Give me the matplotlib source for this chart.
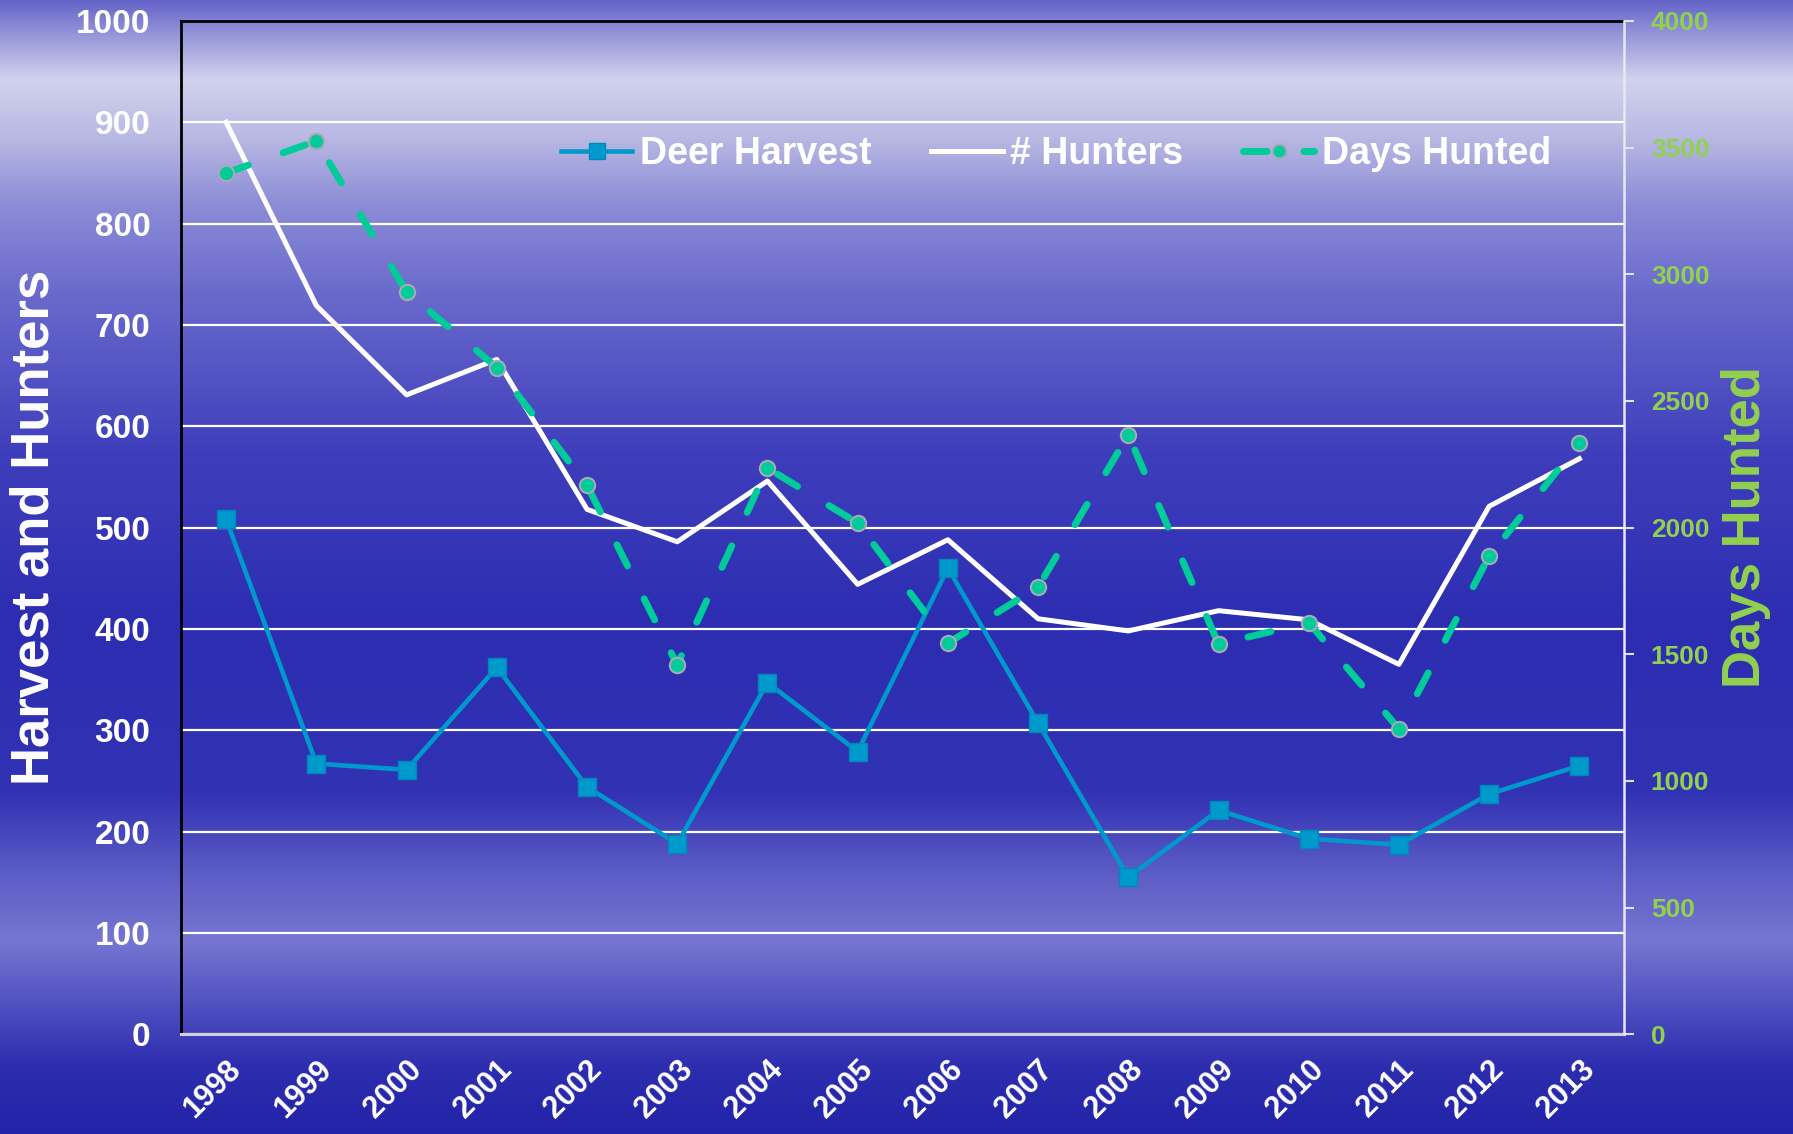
import matplotlib
matplotlib.use("Agg")
import matplotlib.pyplot as plt
import numpy as np

plt.rcParams["font.family"] = ["Liberation Sans", "DejaVu Sans"]
plt.rcParams["font.weight"] = "bold"

# values
years = [str(y) for y in range(1998, 2014)]
deer_harvest = [508, 267, 261, 362, 244, 188, 347, 279, 460, 307, 155, 221, 193, 187, 237, 265]
hunters = [900, 719, 631, 666, 518, 486, 546, 444, 488, 410, 398, 418, 409, 365, 521, 568]
days_hunted = [3400, 3526, 2930, 2632, 2167, 1458, 2235, 2018, 1544, 1765, 2366, 1540, 1625, 1205, 1887, 2334]

left_ticks = list(range(0, 1001, 100))
right_ticks = list(range(0, 4001, 500))

HARVEST_C = "#0099CC"
DAYS_C = "#00CC99"
RIGHT_LABEL_C = "#92D050"

# background gradient stops (fraction from top, rgb)
bg_stops = [
    (0.00, (100, 100, 200)),
    (0.03, (150, 150, 218)),
    (0.07, (210, 210, 238)),
    (0.12, (185, 185, 228)),
    (0.18, (140, 140, 215)),
    (0.26, (105, 105, 204)),
    (0.40, (62, 62, 188)),
    (0.55, (45, 45, 178)),
    (0.70, (50, 50, 180)),
    (0.77, (92, 92, 198)),
    (0.83, (118, 118, 210)),
    (0.89, (78, 78, 192)),
    (0.94, (45, 45, 175)),
    (1.00, (35, 35, 168)),
]

fig = plt.figure(figsize=(17.93, 11.34), dpi=100)

# background
bg = fig.add_axes([0, 0, 1, 1], zorder=-10)
pos = np.array([s[0] for s in bg_stops])
cols = np.array([s[1] for s in bg_stops], dtype=float) / 255
yy = np.linspace(0, 1, 600)
grad = np.stack([np.interp(yy, pos, cols[:, k]) for k in range(3)], axis=1)
bg.imshow(grad[:, None, :], aspect="auto", extent=[0, 1, 1, 0])
bg.set_xlim(0, 1)
bg.set_ylim(1, 0)
bg.axis("off")

ax = fig.add_axes([0.101, 0.088, 0.805, 0.8935])
ax.set_facecolor("none")
x = np.arange(len(years))

ax.plot(x, deer_harvest, color=HARVEST_C, lw=3.3, marker="s", ms=12.5,
        mfc=HARVEST_C, mec="#0088BB", label="Deer Harvest", zorder=3)
ax.plot(x, hunters, color="white", lw=3.6, label="# Hunters", zorder=4)

ax.set_xlim(-0.5, len(years) - 0.5)
ax.set_ylim(0, 1000)
ax.set_yticks(left_ticks)
ax.set_xticks(x)
ax.set_xticklabels(years, rotation=45, ha="right", va="top",
                   rotation_mode="anchor", fontsize=22, color="white")
ax.tick_params(axis="x", length=0, pad=15)
ax.tick_params(axis="y", length=0, pad=22, labelsize=24, labelcolor="white")
ax.grid(axis="y", color="white", lw=1.6)
ax.set_axisbelow(True)
for s in ["left", "top"]:
    ax.spines[s].set_color("black")
    ax.spines[s].set_linewidth(2)
ax.spines["bottom"].set_color("#D0D0D8")
ax.spines["bottom"].set_linewidth(2.2)
ax.spines["right"].set_visible(False)

ax2 = ax.twinx()
ax2.set_facecolor("none")
ax2.plot(x, days_hunted, color=DAYS_C, lw=5, dashes=(3.4, 5.3),
         dash_capstyle="round", marker="o", ms=11, mfc=DAYS_C,
         mec="#A8A8B8", mew=1.5, label="Days Hunted", zorder=5)
ax2.set_ylim(0, 4000)
ax2.set_yticks(right_ticks)
ax2.tick_params(axis="y", length=7, width=1.5, color="#E0E0E8", pad=12,
                labelsize=19, labelcolor=RIGHT_LABEL_C)
ax2.spines["right"].set_color("#E8E8F0")
ax2.spines["right"].set_linewidth(1.8)
for s in ["left", "top", "bottom"]:
    ax2.spines[s].set_visible(False)

fig.text(0.019, 0.535, "Harvest and Hunters", rotation=90, ha="center",
         va="center", fontsize=38, color="white", fontweight="bold")
fig.text(0.974, 0.535, "Days Hunted", rotation=90, ha="center",
         va="center", fontsize=38, color=RIGHT_LABEL_C, fontweight="bold")

h1, l1 = ax.get_legend_handles_labels()
h2, l2 = ax2.get_legend_handles_labels()
fig.legend(h1 + h2, l1 + l2, loc="center", bbox_to_anchor=(0.589, 0.864),
           ncol=3, frameon=False, fontsize=27, labelcolor="white",
           handlelength=1.9, handletextpad=0.2, columnspacing=1.6,
           markerscale=0.9)

fig.savefig("out.png", dpi=100)
